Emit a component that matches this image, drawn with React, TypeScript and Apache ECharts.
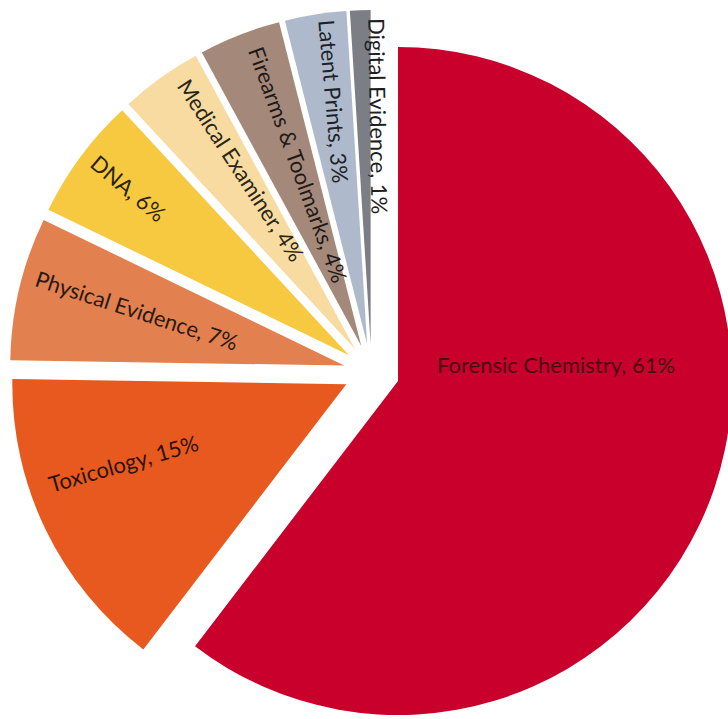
import React, { useEffect, useRef } from 'react';
import * as echarts from 'echarts';

const categories = [
  'Forensic Chemistry',
  'Toxicology',
  'Physical Evidence',
  'DNA',
  'Medical Examiner',
  'Firearms & Toolmarks',
  'Latent Prints',
  'Digital Evidence',
];
const shares = [61, 15, 7, 6, 4, 4, 3, 1];

const sliceColors = ['#C9002B', '#E8591F', '#E38050', '#F7C940', '#F8DBA0', '#A4897A', '#AEBACB', '#7C7E86'];
const labelColors = ['#4a0612', '#2a1408', '#2a1a12', '#2a2410', '#2a2618', '#1e1a18', '#1e2228', '#1e1e22'];
const labelRotations = [0, 16, -18, -40, -57, -70, -85, -89];
// desired on-screen shift of each label from its default inside position
const labelNudges: number[][] = [
  [-3, -71],
  [-70, 5],
  [-42, -16],
  [-84, -66],
  [-15, -41],
  [-1, -23],
  [-7, -75],
  [13, -58],
];

// label dx/dy are applied in the label's rotated frame, so un-rotate the nudge
function localNudge(i: number) {
  const phi = (-labelRotations[i] * Math.PI) / 180;
  const [vx, vy] = labelNudges[i];
  const c = Math.cos(phi);
  const s = Math.sin(phi);
  return { dx: vx * c + vy * s, dy: -vx * s + vy * c };
}

export default function App() {
  const ref = useRef<HTMLDivElement>(null);
  useEffect(() => {
    if (!ref.current) return;
    const chart = echarts.init(ref.current, null, { renderer: 'svg' });
    const data = categories.map((name, i) => ({
      name,
      value: shares[i],
      selected: true,
      itemStyle: { color: sliceColors[i] },
      label: { rotate: labelRotations[i], color: labelColors[i] },
    }));
    chart.setOption({
      animation: false,
      backgroundColor: '#ffffff',
      series: [
        {
          type: 'pie',
          center: [371.5, 372],
          radius: [0, 334],
          startAngle: 90,
          clockwise: true,
          selectedMode: 'multiple',
          selectedOffset: 28,
          avoidLabelOverlap: false,
          itemStyle: { borderWidth: 0 },
          emphasis: { disabled: true },
          select: { itemStyle: { borderWidth: 0 } },
          label: {
            show: true,
            position: 'inside',
            formatter: (p: any) => `${p.name}, ${p.value}%`,
            fontFamily: 'Lato',
            fontSize: 22,
          },
          labelLine: { show: false },
          labelLayout: (p: any) => localNudge(p.dataIndex),
          data,
        },
      ],
    });
    return () => chart.dispose();
  }, []);
  return (
    <div
      ref={ref}
      style={{ position: 'absolute', left: 0, top: 0, width: 728, height: 719 }}
    />
  );
}
